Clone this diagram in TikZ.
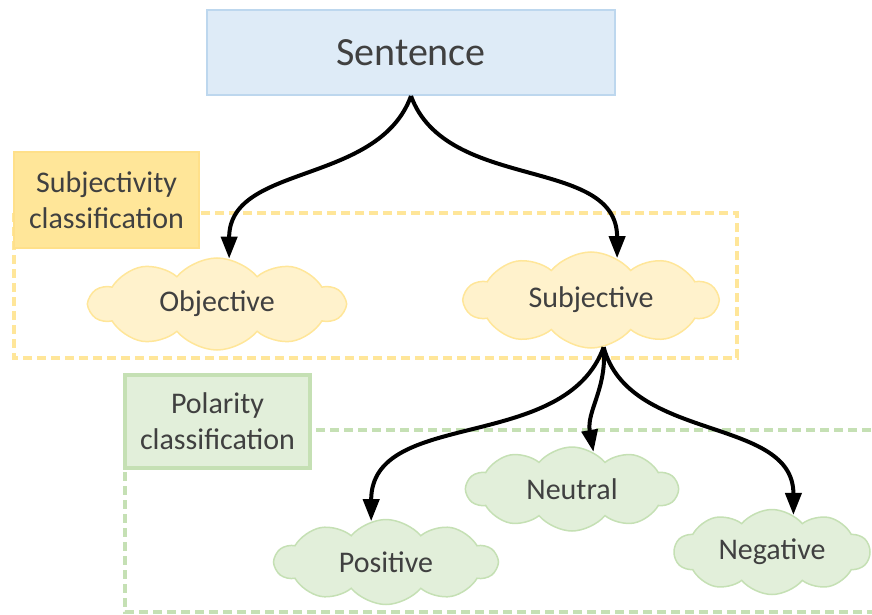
\documentclass[tikz,border=0pt]{standalone}
\usepackage{fontspec}
\setmainfont{Carlito}
\usepackage{tikz}
\usetikzlibrary{arrows.meta,shapes.symbols}
\definecolor{textGray}{HTML}{404040}
\definecolor{sentFill}{HTML}{DEEBF7}
\definecolor{sentLine}{HTML}{BDD7EE}
\definecolor{subjFill}{HTML}{FFF2CC}
\definecolor{subjLine}{HTML}{FFE699}
\definecolor{subjDark}{HTML}{FFE08A}
\definecolor{polFill}{HTML}{E2EFDA}
\definecolor{polLine}{HTML}{C5E0B4}
\tikzset{
     boxNode/.style =
        { rectangle
        , draw
        , line width=2pt
        , inner sep=0pt
        , align=center
        , text=textGray
        }
   , cloudNode/.style =
        { cloud
        , draw
        , cloud puffs=10
        , cloud puff arc=100
        , aspect=2.6
        , inner sep=0pt
        , line width=1.5pt
        , text=textGray
        , font=\fontsize{30}{36}\selectfont
        }
   , frameBox/.style =
        { -
        , line width=3.5pt
        , dash pattern=on 9pt off 5pt
        }
}

\begin{document}
\begin{tikzpicture}
            [ auto
            , ->
            , >={Triangle[length=22pt,width=16pt]}
            , line width=4pt
            ]
            \useasboundingbox (0,0) rectangle (872pt,-615pt);
            \begin{scope}[x=1pt, y=1pt]
            % dashed frames
            \draw[frameBox, subjLine] (14,-213) rectangle (737,-358);
            \draw[frameBox, polLine] (125,-430) rectangle (890,-612);

            % boxes
            \node[boxNode, fill=sentFill, draw=sentLine, minimum width=408pt, minimum height=85pt,
                  font=\fontsize{40}{44}\selectfont] (sent) at (411,-52.5) {Sentence};
            \node[boxNode, fill=subjLine, draw=subjDark, minimum width=185pt, minimum height=96pt,
                  font=\fontsize{30}{36}\selectfont] (subjLabel) at (106.5,-200) {Subjectivity\\classification};
            \node[boxNode, fill=polFill, draw=polLine, line width=3.5pt, minimum width=185pt, minimum height=93pt,
                  font=\fontsize{30}{36}\selectfont] (polLabel) at (217.5,-421.5) {Polarity\\classification};

            % clouds
            \node[cloudNode, fill=subjFill, draw=subjLine, minimum width=255pt, minimum height=92pt] (obj) at (217,-304) {Objective};
            \node[cloudNode, fill=subjFill, draw=subjLine, minimum width=253pt, minimum height=96pt] (subj) at (591,-300) {Subjective};
            \node[cloudNode, fill=polFill, draw=polLine, minimum width=211pt, minimum height=84pt] (neu) at (572,-489) {Neutral};
            \node[cloudNode, fill=polFill, draw=polLine, minimum width=222pt, minimum height=85pt] (pos) at (386,-562) {Positive};
            \node[cloudNode, fill=polFill, draw=polLine, minimum width=195pt, minimum height=85pt] (neg) at (772,-552) {Negative};

            \path[line width=4pt]
            (sent.south) edge [out=-110, in=90] (obj.75)
            (sent.south) edge [out=-70, in=90] (subj.58)

            (subj.-75) edge [out=-110, in=90] (pos.110)
            (subj.-75) edge [out=-85, in=100] (neu.60)
            (subj.-75) edge [out=-75, in=90] (neg.60)
            ;
            \end{scope}
        \end{tikzpicture}
\end{document}
